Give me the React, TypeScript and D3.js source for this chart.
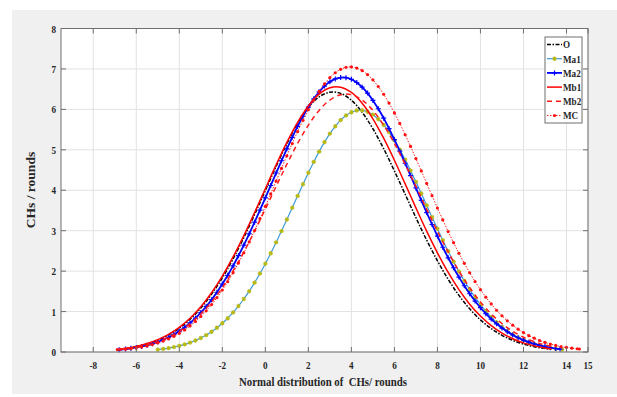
import React from 'react';
import * as d3 from 'd3';

const W = 617;
const H = 397;

const xTicks = [-8, -6, -4, -2, 0, 2, 4, 6, 8, 10, 12, 14, 15];
const yTicks = [0, 1, 2, 3, 4, 5, 6, 7, 8];

// half-unit sampling positions
const GRID = [-6.5, -6, -5.5, -5, -4.5, -4, -3.5, -3, -2.5, -2, -1.5, -1, -0.5, 0, 0.5, 1, 1.5, 2, 2.5, 3, 3.5, 4, 4.5, 5, 5.5, 6, 6.5, 7, 7.5, 8, 8.5, 9, 9.5, 10, 10.5, 11, 11.5, 12, 12.5, 13, 13.5, 14];
// quarter-unit sampling positions (series drawn with markers)
const QGRID = [-6.75, -6.5, -6.25, -6, -5.75, -5.5, -5.25, -5, -4.75, -4.5, -4.25, -4, -3.75, -3.5, -3.25, -3, -2.75, -2.5, -2.25, -2, -1.75, -1.5, -1.25, -1, -0.75, -0.5, -0.25, 0, 0.25, 0.5, 0.75, 1, 1.25, 1.5, 1.75, 2, 2.25, 2.5, 2.75, 3, 3.25, 3.5, 3.75, 4, 4.25, 4.5, 4.75, 5, 5.25, 5.5, 5.75, 6, 6.25, 6.5, 6.75, 7, 7.25, 7.5, 7.75, 8, 8.25, 8.5, 8.75, 9, 9.25, 9.5, 9.75, 10, 10.25, 10.5, 10.75, 11, 11.25, 11.5, 11.75, 12, 12.25, 12.5, 12.75, 13, 13.25, 13.5, 13.75, 14, 14.25, 14.5];

const oX = [-6.8, ...GRID.slice(0, 40), 13.3];
const oY = [0.065, 0.086, 0.133, 0.2, 0.293, 0.421, 0.59, 0.81, 1.088, 1.43, 1.835, 2.305, 2.83, 3.4, 3.995, 4.59, 5.15, 5.66, 6.05, 6.31, 6.424, 6.395, 6.226, 5.928, 5.521, 5.028, 4.478, 3.9, 3.322, 2.767, 2.255, 1.797, 1.4, 1.067, 0.795, 0.579, 0.413, 0.288, 0.196, 0.131, 0.085, 0.065];

const ma1X = [...QGRID.slice(7, 82), 13.8];
const ma1Y = [0.06, 0.077, 0.097, 0.122, 0.152, 0.189, 0.233, 0.285, 0.346, 0.418, 0.502, 0.599, 0.71, 0.835, 0.978, 1.136, 1.311, 1.504, 1.715, 1.942, 2.184, 2.441, 2.71, 2.99, 3.277, 3.569, 3.861, 4.15, 4.431, 4.701, 4.956, 5.19, 5.4, 5.582, 5.733, 5.85, 5.93, 5.973, 5.977, 5.942, 5.869, 5.759, 5.615, 5.439, 5.234, 5.005, 4.754, 4.487, 4.207, 3.919, 3.627, 3.335, 3.047, 2.766, 2.494, 2.234, 1.989, 1.759, 1.545, 1.349, 1.17, 1.008, 0.863, 0.734, 0.62, 0.521, 0.434, 0.36, 0.296, 0.242, 0.197, 0.159, 0.127, 0.102, 0.08, 0.06];

const ma2X = [-6.8, ...QGRID.slice(1, 82), 13.7];
const ma2Y = [0.055, 0.072, 0.09, 0.112, 0.138, 0.17, 0.207, 0.252, 0.304, 0.365, 0.436, 0.518, 0.612, 0.719, 0.839, 0.975, 1.126, 1.294, 1.478, 1.679, 1.897, 2.131, 2.381, 2.645, 2.922, 3.211, 3.508, 3.812, 4.118, 4.426, 4.729, 5.025, 5.309, 5.579, 5.83, 6.058, 6.26, 6.434, 6.575, 6.682, 6.753, 6.787, 6.783, 6.742, 6.664, 6.549, 6.402, 6.222, 6.015, 5.782, 5.526, 5.253, 4.966, 4.668, 4.364, 4.057, 3.751, 3.449, 3.153, 2.866, 2.591, 2.33, 2.083, 1.852, 1.638, 1.44, 1.26, 1.095, 0.947, 0.814, 0.697, 0.592, 0.501, 0.421, 0.352, 0.293, 0.242, 0.199, 0.163, 0.133, 0.107, 0.086, 0.072];

const mb1X = [-6.8, ...GRID.slice(0, 40), 13.3];
const mb1Y = [0.07, 0.091, 0.139, 0.208, 0.305, 0.436, 0.611, 0.836, 1.12, 1.466, 1.877, 2.351, 2.879, 3.448, 4.038, 4.626, 5.182, 5.678, 6.084, 6.376, 6.534, 6.548, 6.418, 6.153, 5.767, 5.287, 4.741, 4.157, 3.565, 2.989, 2.452, 1.967, 1.543, 1.183, 0.888, 0.651, 0.468, 0.328, 0.225, 0.151, 0.099, 0.076];

const mb2X = [-6.8, ...GRID.slice(0, 41)];
const mb2Y = [0.059, 0.077, 0.118, 0.175, 0.256, 0.366, 0.512, 0.701, 0.941, 1.237, 1.591, 2.005, 2.473, 2.987, 3.534, 4.094, 4.643, 5.158, 5.61, 5.975, 6.231, 6.363, 6.363, 6.231, 5.975, 5.61, 5.158, 4.643, 4.094, 3.534, 2.987, 2.473, 2.005, 1.591, 1.237, 0.941, 0.701, 0.512, 0.366, 0.256, 0.175, 0.118];

const mcX = [-6.88, ...QGRID.slice(0, 86), 14.6];
const mcY = [0.06, 0.065, 0.07, 0.082, 0.1, 0.121, 0.149, 0.183, 0.222, 0.269, 0.324, 0.388, 0.461, 0.546, 0.644, 0.754, 0.878, 1.018, 1.172, 1.345, 1.533, 1.739, 1.961, 2.199, 2.453, 2.723, 3.005, 3.299, 3.602, 3.912, 4.226, 4.54, 4.851, 5.155, 5.45, 5.73, 5.991, 6.231, 6.445, 6.631, 6.786, 6.906, 6.991, 7.039, 7.049, 7.022, 6.959, 6.861, 6.73, 6.566, 6.374, 6.155, 5.913, 5.653, 5.373, 5.084, 4.783, 4.479, 4.17, 3.865, 3.561, 3.267, 2.979, 2.704, 2.441, 2.193, 1.96, 1.742, 1.542, 1.356, 1.188, 1.033, 0.896, 0.771, 0.663, 0.564, 0.48, 0.404, 0.341, 0.283, 0.238, 0.195, 0.162, 0.131, 0.113, 0.095, 0.08, 0.074];

const seriesNames = ['O', 'Ma1', 'Ma2', 'Mb1', 'Mb2', 'MC'];

type Style = {
  color: string;
  width: number;
  dash?: string;
  marker?: 'plus' | 'star' | 'dot';
  markerColor?: string;
};

const styles: Record<string, Style> = {
  O: { color: '#000000', width: 1.5, dash: '4,1.5,1.5,1.5' },
  Ma1: { color: '#3c9bd6', width: 1.2, marker: 'star', markerColor: '#b9b915' },
  Ma2: { color: '#0000ff', width: 1.8, marker: 'plus', markerColor: '#0000ff' },
  Mb1: { color: '#ff0000', width: 1.5 },
  Mb2: { color: '#ff1a1a', width: 1.5, dash: '5,4' },
  MC: { color: '#ff2020', width: 1, dash: '1.5,1.5', marker: 'dot', markerColor: '#ff1010' },
};

const seriesData: Record<string, [number[], number[]]> = {
  O: [oX, oY],
  Ma1: [ma1X, ma1Y],
  Ma2: [ma2X, ma2Y],
  Mb1: [mb1X, mb1Y],
  Mb2: [mb2X, mb2Y],
  MC: [mcX, mcY],
};

const L = 61, R = 588, T = 28.5, B = 352;
const FONT = '"Liberation Serif", "Times New Roman", serif';
const SQ = 0.83;

function Marker({ kind, cx, cy, color }: { kind: string; cx: number; cy: number; color: string }) {
  if (kind === 'plus') {
    return (
      <path d={`M${cx - 2.5},${cy}H${cx + 2.5}M${cx},${cy - 2.5}V${cy + 2.5}`} stroke={color} strokeWidth={1.2} />
    );
  }
  if (kind === 'star') {
    const r = 2.2;
    const d = r * 0.7;
    return (
      <path
        d={`M${cx - r},${cy}H${cx + r}M${cx},${cy - r}V${cy + r}M${cx - d},${cy - d}L${cx + d},${cy + d}M${cx - d},${cy + d}L${cx + d},${cy - d}`}
        stroke={color}
        strokeWidth={1.1}
      />
    );
  }
  return <circle cx={cx} cy={cy} r={1.6} fill={color} />;
}

export default function App() {
  const x = d3.scaleLinear().domain([-9.5, 15]).range([L, R]);
  const y = d3.scaleLinear().domain([0, 8]).range([B, T]);
  const line = d3
    .line<[number, number]>()
    .x((d) => x(d[0]))
    .y((d) => y(d[1]))
    .curve(d3.curveCatmullRom);

  const legX = 545, legY = 37, legW = 37, legH = 86;

  return (
    <svg width={W} height={H} style={{ position: 'absolute', left: 0, top: 0 }} fontFamily={FONT}>
      <rect x={0} y={0} width={W} height={H} fill="#ffffff" />
      <rect x={12} y={10} width={W - 12} height={384} fill="#f0f0f0" />
      <rect x={L} y={T} width={R - L} height={B - T} fill="#ffffff" />
      {xTicks.map((t) => (
        <line key={'gx' + t} x1={x(t)} x2={x(t)} y1={T} y2={B} stroke="#e2e2e2" strokeWidth={1} />
      ))}
      {yTicks.map((t) => (
        <line key={'gy' + t} x1={L} x2={R} y1={y(t)} y2={y(t)} stroke="#e2e2e2" strokeWidth={1} />
      ))}
      {seriesNames.map((name) => {
        const st = styles[name];
        const [xs, ys] = seriesData[name];
        const pts = d3.zip(xs, ys) as [number, number][];
        return (
          <g key={name}>
            <path
              d={line(pts) || ''}
              fill="none"
              stroke={st.color}
              strokeWidth={st.width}
              strokeDasharray={st.dash}
            />
            {st.marker &&
              pts.map((p, i) => (
                <Marker key={i} kind={st.marker as string} cx={x(p[0])} cy={y(p[1])} color={st.markerColor as string} />
              ))}
          </g>
        );
      })}
      <rect x={L} y={T} width={R - L} height={B - T} fill="none" stroke="#6f6f6f" strokeWidth={1} />
      {xTicks.map((t) => (
        <g key={'tx' + t}>
          <line x1={x(t)} x2={x(t)} y1={B} y2={B - 5} stroke="#6f6f6f" />
          <line x1={x(t)} x2={x(t)} y1={T} y2={T + 5} stroke="#6f6f6f" />
          <text
            transform={`translate(${x(t)},${369}) scale(${SQ},1)`}
            textAnchor="middle"
            fontSize={11}
            fontWeight="bold"
            fill="#262626"
          >
            {t}
          </text>
        </g>
      ))}
      {yTicks.map((t) => (
        <g key={'ty' + t}>
          <line x1={L} x2={L + 5} y1={y(t)} y2={y(t)} stroke="#6f6f6f" />
          <line x1={R} x2={R - 5} y1={y(t)} y2={y(t)} stroke="#6f6f6f" />
          <text
            transform={`translate(${56},${y(t) + 4}) scale(${SQ},1)`}
            textAnchor="end"
            fontSize={11}
            fontWeight="bold"
            fill="#262626"
          >
            {t}
          </text>
        </g>
      ))}
      <text
        transform={`translate(${323},${386}) scale(${SQ},1)`}
        textAnchor="middle"
        fontSize={13}
        fontWeight="bold"
        fill="#262626"
        style={{ whiteSpace: 'pre' }}
      >
        {'Normal distribution of  CHs/ rounds'}
      </text>
      <text
        transform={`translate(${35},${190}) rotate(-90)`}
        textAnchor="middle"
        fontSize={13.5}
        fontWeight="bold"
        fill="#262626"
      >
        CHs / rounds
      </text>
      <rect x={legX} y={legY} width={legW} height={legH} fill="#ffffff" stroke="#6f6f6f" strokeWidth={1} />
      {seriesNames.map((name, i) => {
        const st = styles[name];
        const cy = 44.5 + i * 14.2;
        return (
          <g key={'leg' + name}>
            <line x1={547} x2={562} y1={cy} y2={cy} stroke={st.color} strokeWidth={st.width} strokeDasharray={st.dash} />
            {st.marker && <Marker kind={st.marker} cx={554.5} cy={cy} color={st.markerColor as string} />}
            <text
              transform={`translate(${563},${cy + 3.8}) scale(${SQ},1)`}
              fontSize={11}
              fontWeight="bold"
              fill="#262626"
            >
              {name}
            </text>
          </g>
        );
      })}
    </svg>
  );
}
